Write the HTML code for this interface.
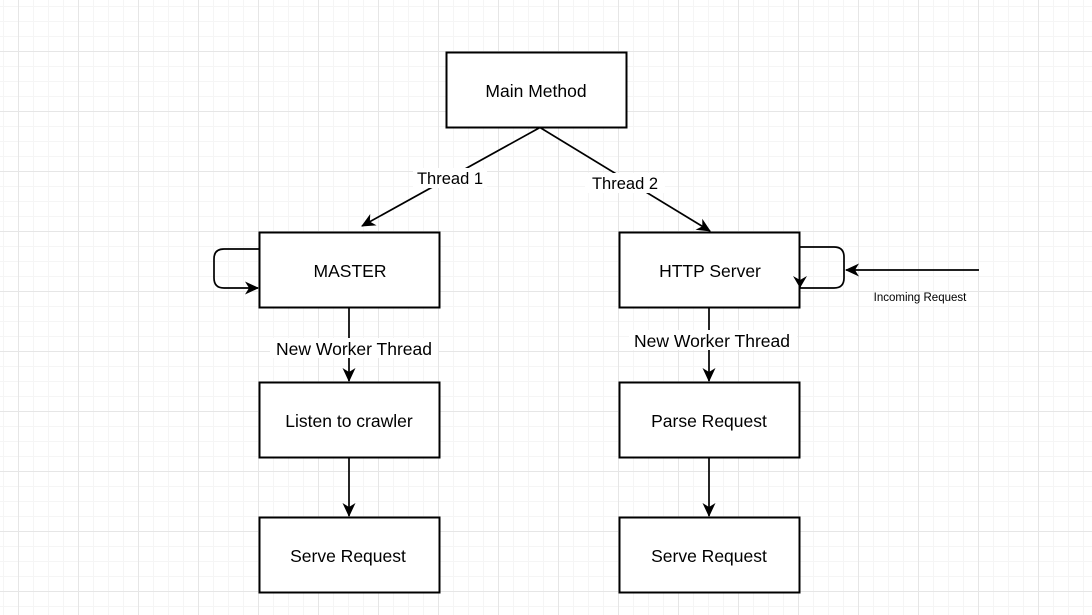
<!DOCTYPE html>
<html><head><meta charset="utf-8"><style>
html,body{margin:0;padding:0;background:#fff;}
svg{display:block;}
text{font-family:"Liberation Sans",Arial,sans-serif;fill:#000;}
</style></head><body>
<svg width="1092" height="615" viewBox="0 0 1092 615" xmlns="http://www.w3.org/2000/svg">
<defs>
<pattern id="minor" x="3" y="6" width="15" height="15" patternUnits="userSpaceOnUse">
<path d="M0 0.5H15M0.5 0V15" stroke="#f5f5f5" stroke-width="1" fill="none"/>
</pattern>
<pattern id="major" x="18" y="51" width="60" height="60" patternUnits="userSpaceOnUse">
<path d="M0 0.5H60M0.5 0V60" stroke="#e6e6e6" stroke-width="1" fill="none"/>
</pattern>
<marker id="ar" markerWidth="16" markerHeight="16" refX="13" refY="8" orient="auto" markerUnits="userSpaceOnUse">
<path d="M0 1.5L14 8L0 14.5L4 8Z" fill="#000"/>
</marker>
</defs>
<rect width="1092" height="615" fill="#fff"/>
<rect width="1092" height="615" fill="url(#minor)"/>
<rect width="1092" height="615" fill="url(#major)"/>
<g fill="#fff" stroke="#000" stroke-width="2">
<rect x="446.5" y="52.5" width="180" height="75"/>
<rect x="259.5" y="232.5" width="180" height="75"/>
<rect x="619.5" y="232.5" width="180" height="75"/>
<rect x="259.5" y="382.5" width="180" height="75"/>
<rect x="619.5" y="382.5" width="180" height="75"/>
<rect x="259.5" y="517.5" width="180" height="75"/>
<rect x="619.5" y="517.5" width="180" height="75"/>
</g>
<g stroke="#000" stroke-width="1.7" fill="none" marker-end="url(#ar)">
<line x1="540" y1="127.5" x2="362" y2="226"/>
<line x1="540" y1="127.5" x2="710" y2="231"/>
<line x1="349" y1="308" x2="349" y2="381"/>
<line x1="709" y1="308" x2="709" y2="381"/>
<line x1="349" y1="458" x2="349" y2="516"/>
<line x1="709" y1="458" x2="709" y2="516"/>
<path d="M259 249H224Q214 249 214 259V278Q214 288 224 288H258"/>
<path d="M800 247H834Q844 247 844 257V278Q844 288 834 288H800V280" marker-end="none"/>
<line x1="979" y1="270" x2="846" y2="270"/>
</g>
<path d="M800 288L793 276L800 280L807 276Z" fill="#000"/>
<g font-size="17.5" text-anchor="middle">
<rect x="413" y="168" width="74" height="20" fill="#fff"/>
<rect x="585" y="173" width="80" height="20" fill="#fff"/>
<rect x="270" y="338" width="168" height="20" fill="#fff"/>
<rect x="629" y="330" width="168" height="20" fill="#fff"/>
<text x="536" y="97">Main Method</text>
<text x="350" y="277">MASTER</text>
<text x="710" y="277">HTTP Server</text>
<text x="349" y="427">Listen to crawler</text>
<text x="709" y="427">Parse Request</text>
<text x="348" y="562">Serve Request</text>
<text x="709" y="562">Serve Request</text>
<text x="450" y="184" font-size="16.5">Thread 1</text>
<text x="625" y="189" font-size="16.5">Thread 2</text>
<text x="354" y="355">New Worker Thread</text>
<text x="712" y="347">New Worker Thread</text>
<text x="920" y="301" font-size="11.5">Incoming Request</text>
</g>
</svg>
</body></html>
